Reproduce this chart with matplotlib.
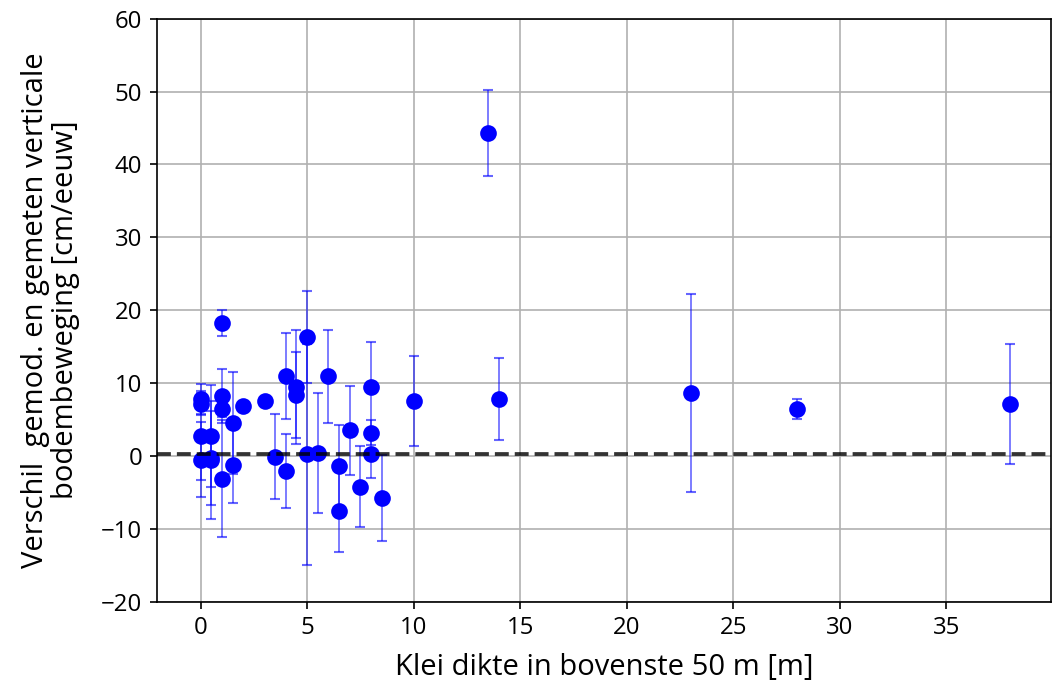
import matplotlib as mpl
mpl.use('Agg')
import matplotlib.pyplot as plt

plt.rcParams['font.family'] = ['Open Sans', 'DejaVu Sans']
plt.rcParams['axes.unicode_minus'] = True

# klei dikte [m] tegen verschil model - meting [cm/eeuw]
klei = [0, 0, 0, 0, 0.5, 0.5, 0.5, 1, 1, 1, 1, 1.5, 1.5, 2, 3, 3.5, 4, 4, 4.5, 4.5,
        5, 5, 5.5, 6, 6.5, 6.5, 7, 7.5, 8, 8, 8, 8.5, 10, 13.5, 14, 23, 28, 38]
verschil = [7.8, 7.1, 2.8, -0.5, 2.7, -0.5, -0.3, 18.2, 8.2, 6.4, -3.1, 4.5, -1.3, 6.8,
            7.6, -0.1, 10.9, -2.1, 9.5, 8.4, 16.3, 0.2, 0.4, 10.9, -1.4, -7.5, 3.5,
            -4.2, 9.4, 3.2, 0.2, -5.8, 7.5, 44.3, 7.8, 8.6, 6.4, 7.1]
fout = [2.1, 1.5, 6.1, 5.1, 7.0, 8.1, 6.5, 1.8, 3.7, 1.0, 8.0, 7.0, 5.1, 0.5,
        0.5, 5.8, 5.9, 5.1, 7.8, 5.9, 6.3, 15.1, 8.3, 6.4, 5.6, 5.7, 6.1,
        5.5, 6.2, 1.7, 3.2, 5.9, 6.2, 5.9, 5.6, 13.6, 1.4, 8.2]
gemiddeld = 0.3

fig = plt.figure(figsize=(7.02, 4.6), dpi=150)
ax = fig.add_axes([0.149, 0.128, 0.849, 0.845])

ax.errorbar(klei, verschil, yerr=fout, fmt='none', ecolor='blue', elinewidth=0.8,
            capsize=2.5, alpha=0.6, zorder=3)
ax.plot(klei, verschil, 'o', color='blue', markersize=7, zorder=4)
ax.axhline(gemiddeld, color='k', ls='--', lw=1.8, alpha=0.8, zorder=5)

ax.set_xlim(-2.05, 39.9)
ax.set_ylim(-20, 60)
ax.set_xticks(range(0, 40, 5))
ax.tick_params(labelsize=11.5)
ax.grid(True)
ax.set_axisbelow(True)
ax.set_xlabel('Klei dikte in bovenste 50 m [m]', fontsize=14, labelpad=6)
ax.set_ylabel('Verschil  gemod. en gemeten verticale\nbodembeweging [cm/eeuw]',
              fontsize=14, linespacing=1.05, labelpad=10)

fig.savefig('out.png', dpi=150)
